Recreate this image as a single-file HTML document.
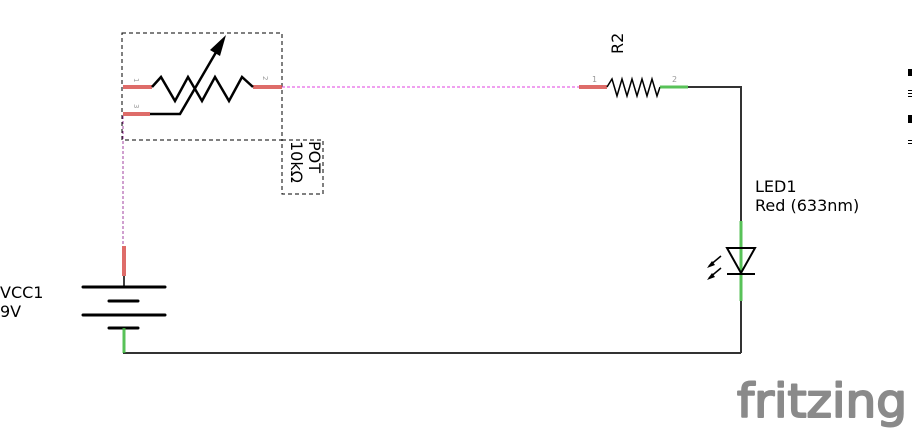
<!DOCTYPE html>
<html><head><meta charset="utf-8"><style>
html,body{margin:0;padding:0;background:#fff;width:912px;height:429px;overflow:hidden}
svg{display:block}
text{font-family:"DejaVu Sans","Liberation Sans",sans-serif}
</style></head><body>
<svg width="912" height="429" viewBox="0 0 912 429">
<g>
<rect x="122" y="33" width="160" height="107" fill="none" stroke="#000" stroke-dasharray="4,3" stroke-width="1"/>
<rect x="282" y="140" width="41" height="54" fill="none" stroke="#000" stroke-dasharray="4,3" stroke-width="1"/>
<line x1="123" y1="87" x2="152" y2="87" stroke="#d9534f" stroke-width="4" opacity="0.85"/>
<line x1="123" y1="114" x2="150" y2="114" stroke="#d9534f" stroke-width="4" opacity="0.85"/>
<line x1="253" y1="87" x2="282" y2="87" stroke="#d9534f" stroke-width="4" opacity="0.85"/>
<polyline points="152,87 161,77 175,101 188,77 202,101 215,77 229,101 242,77 253,87" fill="none" stroke="#000" stroke-width="2.5"/>
<polyline points="150,114 180,114 222,42" fill="none" stroke="#000" stroke-width="2.5"/>
<polygon points="226,35 220,56 210,50" fill="#000"/>
<text x="134" y="78" font-size="7" fill="#999" transform="rotate(90 134 78)">1</text>
<text x="134" y="104" font-size="7" fill="#999" transform="rotate(90 134 104)">3</text>
<text x="263" y="76" font-size="7" fill="#999" transform="rotate(90 263 76)">2</text>
<text x="309" y="141" font-size="16" fill="#000" transform="rotate(90 309 141)">POT</text>
<text x="291" y="141" font-size="16" fill="#000" transform="rotate(90 291 141)">10kΩ</text>
</g>
<line x1="282" y1="87" x2="580" y2="87" stroke="#e040e0" stroke-width="1" stroke-dasharray="3,2"/>
<line x1="123" y1="116" x2="123" y2="246" stroke="#a040a0" stroke-width="1" stroke-dasharray="3,2"/>
<g>
<line x1="579" y1="87" x2="607" y2="87" stroke="#d9534f" stroke-width="4" opacity="0.85"/>
<polyline points="607,87 612,79 617,96 622,79 627,96 632,79 637,96 642,79 647,96 652,79 657,96 660,87" fill="none" stroke="#000" stroke-width="1.5"/>
<line x1="660" y1="87" x2="688" y2="87" stroke="#3cb83c" stroke-width="3" opacity="0.85"/>
<text x="592" y="82" font-size="8" fill="#999">1</text>
<text x="672" y="82" font-size="8" fill="#999">2</text>
<text x="623" y="54" font-size="16" fill="#000" transform="rotate(-90 623 54)">R2</text>
</g>
<g stroke="#333" stroke-width="2" fill="none">
<polyline points="688,87 741,87 741,221"/>
<line x1="741" y1="301" x2="741" y2="353"/>
<line x1="123" y1="353" x2="741" y2="353"/>
</g>
<g>
<line x1="741" y1="221" x2="741" y2="301" stroke="#3cb83c" stroke-width="3" opacity="0.85"/>
<polygon points="727,248 755,248 741,273" fill="none" stroke="#000" stroke-width="2"/>
<line x1="727" y1="274" x2="755" y2="274" stroke="#000" stroke-width="2"/>
<line x1="721" y1="256" x2="709" y2="266" stroke="#000" stroke-width="1.5"/>
<polygon points="707,268 712,261 715,265" fill="#000"/>
<line x1="721" y1="268" x2="709" y2="278" stroke="#000" stroke-width="1.5"/>
<polygon points="707,280 712,273 715,277" fill="#000"/>
<text x="755" y="192" font-size="16" fill="#000">LED1</text>
<text x="755" y="211" font-size="16" fill="#000">Red (633nm)</text>
</g>
<g>
<line x1="124" y1="246" x2="124" y2="276" stroke="#d9534f" stroke-width="4" opacity="0.85"/>
<line x1="124" y1="276" x2="124" y2="287" stroke="#000" stroke-width="1.5"/>
<line x1="83" y1="287" x2="165" y2="287" stroke="#000" stroke-width="3" stroke-linecap="round"/>
<line x1="109" y1="301" x2="138" y2="301" stroke="#000" stroke-width="3" stroke-linecap="round"/>
<line x1="83" y1="315" x2="165" y2="315" stroke="#000" stroke-width="3" stroke-linecap="round"/>
<line x1="109" y1="328" x2="138" y2="328" stroke="#000" stroke-width="3" stroke-linecap="round"/>
<line x1="124" y1="328" x2="124" y2="353" stroke="#3cb83c" stroke-width="3" opacity="0.85"/>
<text x="0" y="298" font-size="16" fill="#000">VCC1</text>
<text x="0" y="317" font-size="16" fill="#000">9V</text>
</g>
<g fill="#000">
<rect x="908" y="69" width="4" height="7"/>
<rect x="908" y="90" width="4" height="1"/><rect x="908" y="93" width="4" height="1"/><rect x="908" y="96" width="4" height="1"/>
<rect x="908" y="115" width="4" height="8"/>
<rect x="908" y="140" width="4" height="1"/><rect x="908" y="143" width="4" height="1"/>
</g>
<text x="737" y="417" font-size="46" fill="#8a8a8a" stroke="#8a8a8a" stroke-width="2" stroke-linejoin="round" textLength="170" lengthAdjust="spacingAndGlyphs">fritzing</text>
</svg>
</body></html>
